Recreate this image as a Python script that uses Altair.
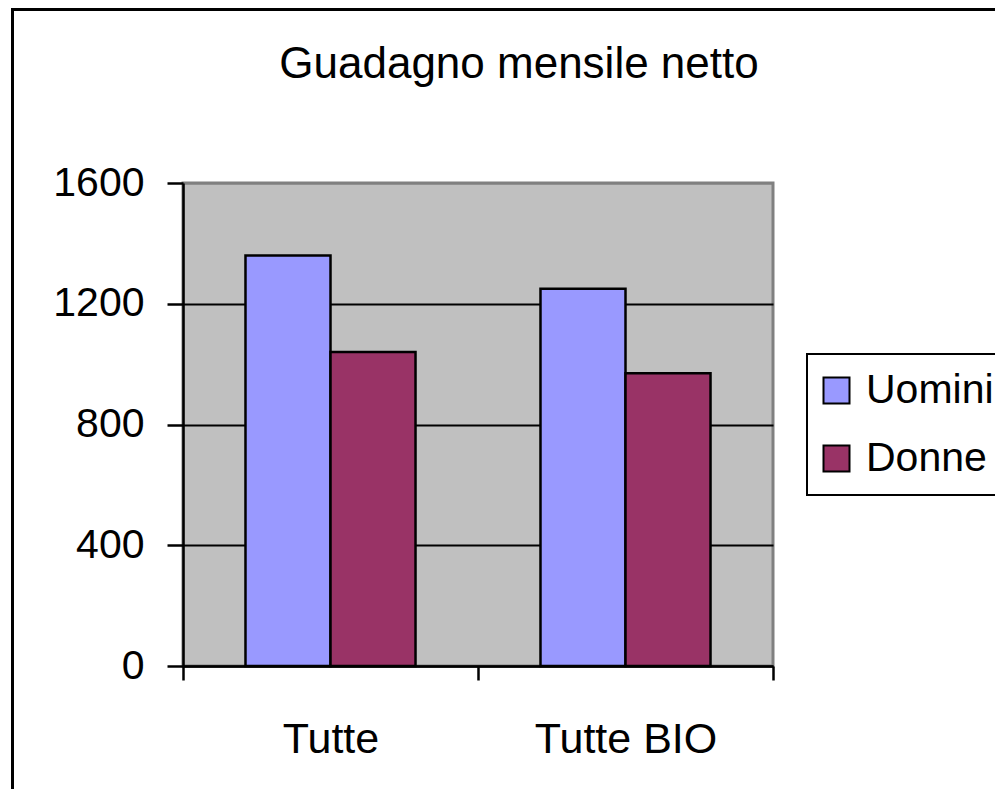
import altair as alt
import pandas as pd

categories = ["Tutte", "Tutte BIO"]
series = ["Uomini", "Donne"]
uomini = [1360, 1250]
donne = [1040, 970]
colors = ["#9999FF", "#993366"]
y_ticks = [0, 400, 800, 1200, 1600]
title_text = "Guadagno mensile netto"

rows = []
for i, c in enumerate(categories):
    rows.append({"Categoria": c, "Serie": "Uomini", "Valore": uomini[i]})
    rows.append({"Categoria": c, "Serie": "Donne", "Valore": donne[i]})
df = pd.DataFrame(rows)

FONT = "Liberation Sans"

bars = alt.Chart(df).mark_bar(stroke="black", strokeWidth=2.5).encode(
    x=alt.X("Categoria:N", sort=categories,
            scale=alt.Scale(paddingInner=0, paddingOuter=0),
            axis=alt.Axis(title=None, labelAngle=0, tickBand="extent", tickSize=14,
                          tickWidth=2.5, tickColor="black", domainColor="black",
                          domainWidth=2.5, labelFontSize=43, labelFont=FONT,
                          labelColor="black", labelPadding=38, labelLimit=1000,
                          grid=False)),
    xOffset=alt.XOffset("Serie:N", sort=series,
                        scale=alt.Scale(paddingInner=0, paddingOuter=0.735)),
    y=alt.Y("Valore:Q", scale=alt.Scale(domain=[0, 1600], nice=False),
            axis=alt.Axis(title=None, values=y_ticks, format="d", tickSize=16,
                          tickWidth=2.5, tickColor="black", domainColor="black",
                          domainWidth=2.5, labelFontSize=41, labelFont=FONT,
                          labelColor="black", labelPadding=23, grid=True, gridWidth=2,
                          gridColor=alt.condition("datum.value == 1600",
                                                  alt.value("#808080"),
                                                  alt.value("black")))),
    color=alt.Color("Serie:N", sort=series,
                    scale=alt.Scale(domain=series, range=colors),
                    legend=alt.Legend(title=None, orient="none", legendX=624, legendY=171,
                                      strokeColor="black", padding=16,
                                      symbolType="square", symbolSize=676,
                                      symbolStrokeColor="black", symbolStrokeWidth=2,
                                      symbolOpacity=1, symbolOffset=-7, labelLimit=1000,
                                      labelFontSize=41, labelFont=FONT, labelColor="black",
                                      labelOffset=9)),
)

title = alt.Chart(pd.DataFrame({"t": [title_text]})).mark_text(
    font=FONT, fontSize=44, align="center", baseline="alphabetic", color="black"
).encode(x=alt.value(336), y=alt.value(-105), text="t:N")

border = alt.Chart(pd.DataFrame({"b": [1]})).mark_rect(
    filled=False, stroke="black", strokeWidth=3
).encode(x=alt.value(-170.5), x2=alt.value(900), y=alt.value(-173.5), y2=alt.value(700))

chart = alt.layer(border, title, bars).properties(
    width=590, height=483,
    autosize=alt.AutoSizeParams(type="none"),
    padding={"left": 175, "top": 175, "right": 222, "bottom": 123},
    background="white",
).configure_view(
    fill="#C0C0C0", stroke="#808080", strokeWidth=3
).configure_legend(
    strokeWidth=2, rowPadding=26
)

chart.save("out.html", embed_options={"renderer": "svg", "actions": False})
